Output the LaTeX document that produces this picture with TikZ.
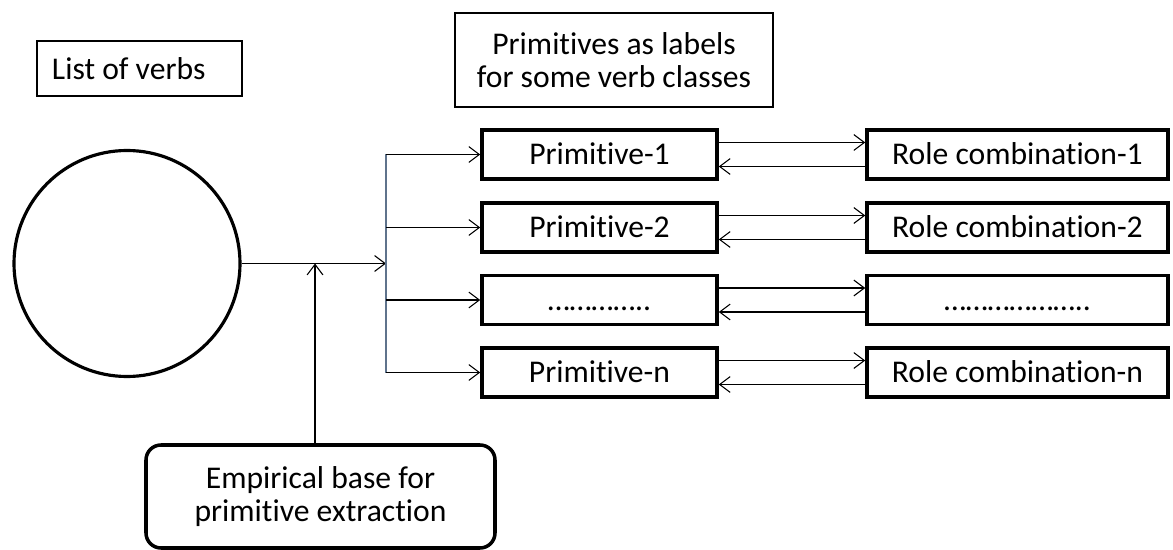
\documentclass[tikz,border=0pt]{standalone}
\usepackage{fontspec}
\setmainfont{Carlito}[Ligatures=NoCommon]
\usepackage{xcolor}
\usetikzlibrary{arrows.meta}
\definecolor{busblue}{RGB}{95,115,140}

\begin{document}
\begin{tikzpicture}[
  >={Straight Barb[length=6pt,width=9pt]},
  font=\fontsize{18}{19}\selectfont,
  thinbox/.style={draw, line width=0.7pt},
  thickbox/.style={draw, line width=2pt},
  rowbox/.style={thickbox, minimum height=0.98cm, text height=0.41cm, text depth=0cm},
  link/.style={->, line width=0.6pt}
]
\useasboundingbox (0,0) rectangle (23.46,-11);
% labels on top
\node[thinbox, text width=3.5cm, inner xsep=0.3cm, minimum height=1.1cm, align=flush left] (list) at (2.79,-1.37) {List of verbs};
\node[thinbox, minimum width=6.36cm, minimum height=1.88cm, align=center] (labels) at (12.28,-1.2) {Primitives as labels\\for some verb classes};
% verb list and empirical base
\node[circle, thickbox, line width=1.8pt, minimum size=4.52cm] (verbs) at (2.54,-5.27) {};
\node[thickbox, rounded corners=0.3cm, minimum width=6.98cm, minimum height=2.06cm, align=center] (base) at (6.41,-9.93) {Empirical base for\\primitive extraction};
\coordinate (split) at (7.72,-5.27);
\coordinate (join) at (6.3,-5.27);
% primitives
\node[rowbox, minimum width=4.7cm] (prim1) at (11.99,-3.09) {Primitive-1};
\node[rowbox, minimum width=4.7cm] (prim2) at (11.99,-4.55) {Primitive-2};
\node[rowbox, minimum width=4.7cm] (prim3) at (11.99,-6.0) {…………..};
\node[rowbox, minimum width=4.7cm] (prim4) at (11.99,-7.45) {Primitive-n};
% role combinations
\node[rowbox, minimum width=6.02cm] (role1) at (20.35,-3.09) {Role combination-1};
\node[rowbox, minimum width=6.02cm] (role2) at (20.35,-4.55) {Role combination-2};
\node[rowbox, minimum width=6.02cm] (role3) at (20.35,-6.0) {………………..};
\node[rowbox, minimum width=6.02cm] (role4) at (20.35,-7.45) {Role combination-n};
% connectors
\draw[link] (verbs.east) -- (split);
\draw[link] (base.north -| join) -- (join);
\draw[busblue, line width=0.6pt] (split |- prim1) -- (split |- prim4);
\draw[link] (split |- prim1) -- (prim1.west);
\draw[link] (split |- prim2) -- (prim2.west);
\draw[link] (split |- prim3) -- (prim3.west);
\draw[link] (split |- prim4) -- (prim4.west);
\draw[link] ([yshift=0.24cm]prim1.east) -- ([yshift=0.24cm]role1.west);
\draw[link] ([yshift=-0.24cm]role1.west) -- ([yshift=-0.24cm]prim1.east);
\draw[link] ([yshift=0.24cm]prim2.east) -- ([yshift=0.24cm]role2.west);
\draw[link] ([yshift=-0.24cm]role2.west) -- ([yshift=-0.24cm]prim2.east);
\draw[link] ([yshift=0.24cm]prim3.east) -- ([yshift=0.24cm]role3.west);
\draw[link] ([yshift=-0.24cm]role3.west) -- ([yshift=-0.24cm]prim3.east);
\draw[link] ([yshift=0.24cm]prim4.east) -- ([yshift=0.24cm]role4.west);
\draw[link] ([yshift=-0.24cm]role4.west) -- ([yshift=-0.24cm]prim4.east);
\end{tikzpicture}
\end{document}
